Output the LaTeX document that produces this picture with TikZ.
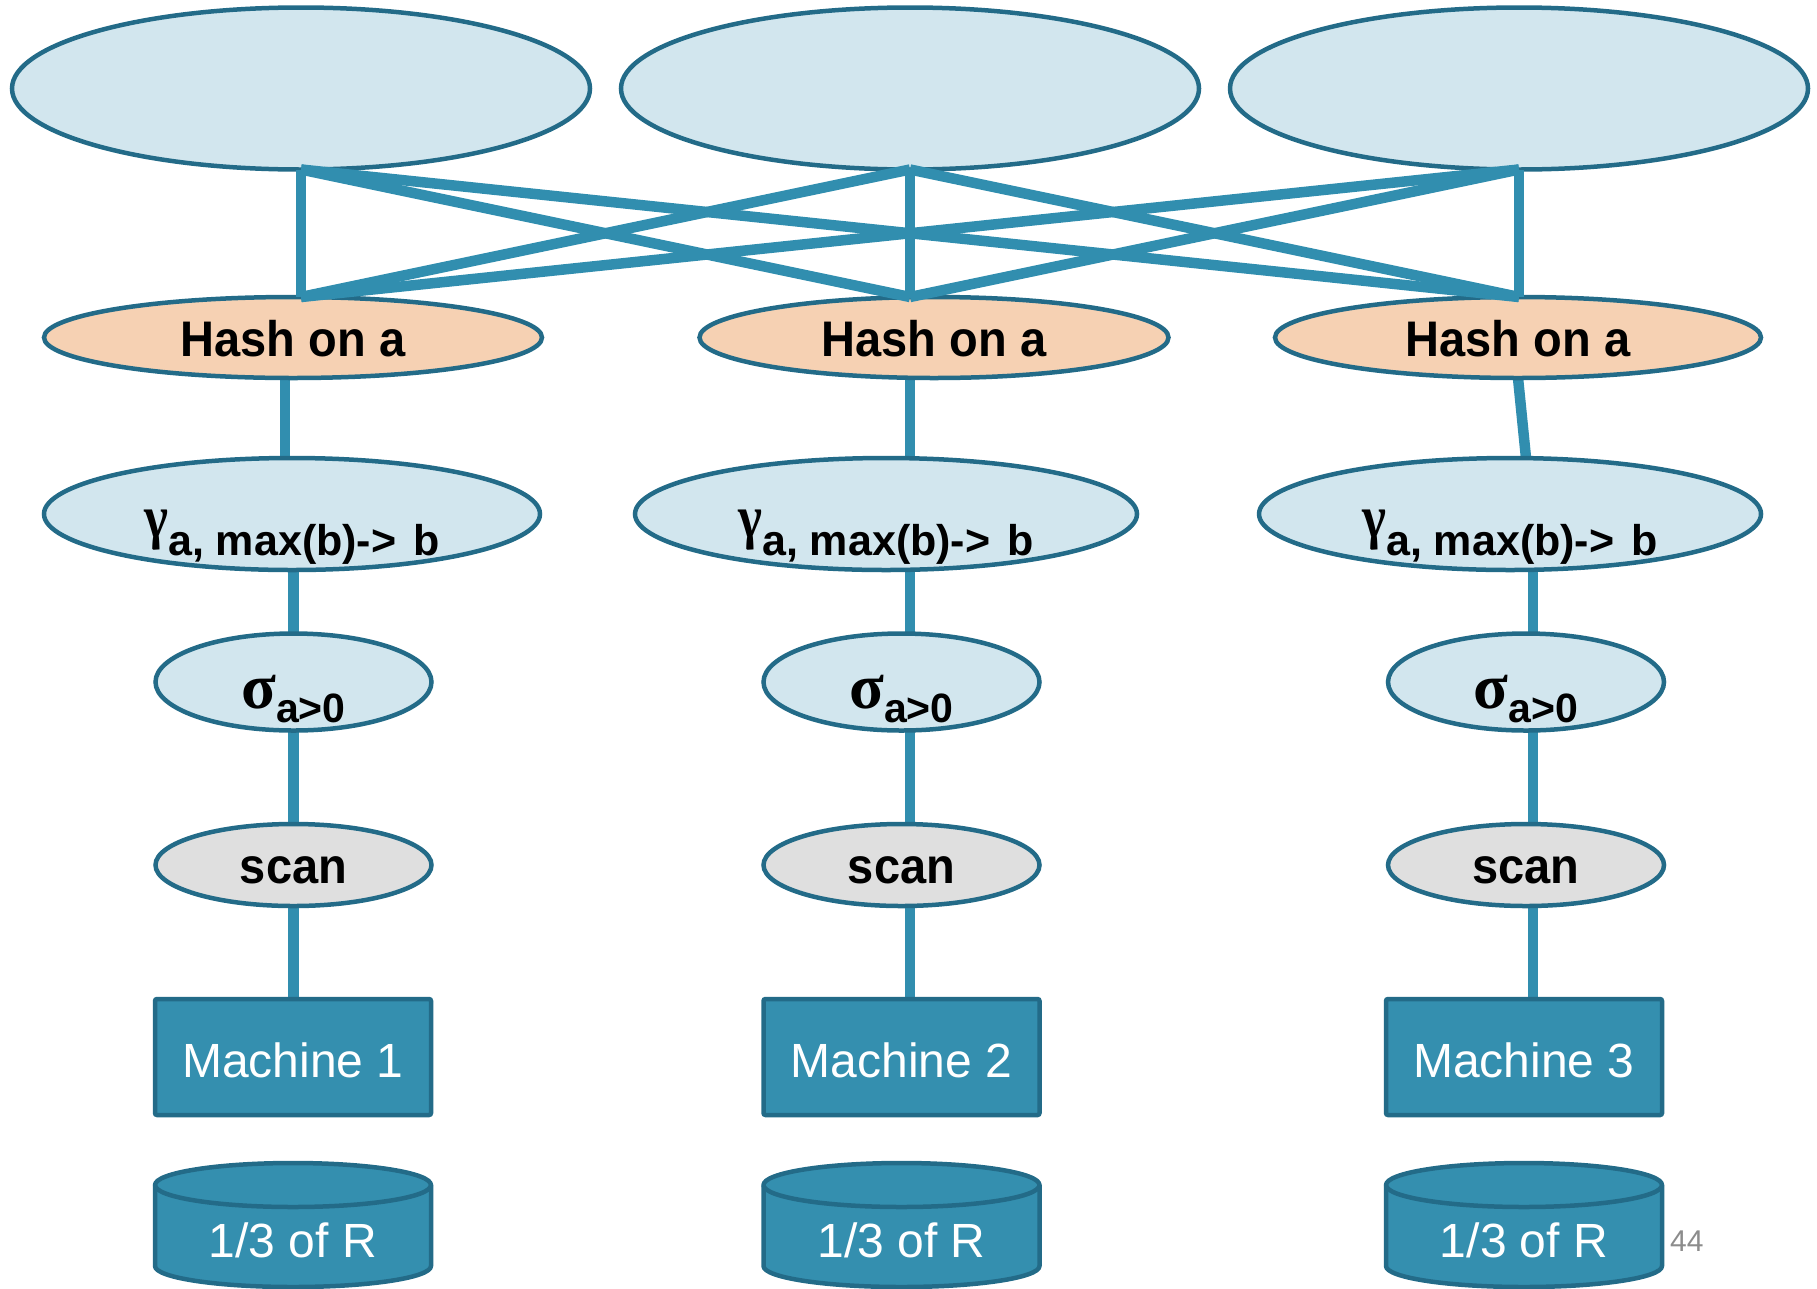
\documentclass[tikz,border=0pt]{standalone}
\usepackage{fontspec}
\setmainfont{Liberation Sans}
\newfontfamily\grk{Liberation Serif}
\newfontfamily\grkn[FakeStretch=0.85]{Liberation Serif}
\newfontfamily\lblfont[FakeStretch=0.94]{Liberation Sans}
\usetikzlibrary{shapes.geometric}
\pgfdeclarelayer{bg}
\pgfsetlayers{bg,main}
\definecolor{edgec}{HTML}{236B88}
\definecolor{conn}{HTML}{318EAF}
\definecolor{lightfill}{HTML}{D2E6EE}
\definecolor{peach}{HTML}{F6D1B3}
\definecolor{scangray}{HTML}{DFDFDF}
\definecolor{machfill}{HTML}{348FAF}
\definecolor{pagegray}{HTML}{8C8C8C}
\newcommand{\gam}{{\grkn\bfseries\fontsize{60}{60}\selectfont γ}\raisebox{-18pt}{\bfseries\fontsize{43}{44}\selectfont a, max(b)->\hspace{17pt}b}}
\newcommand{\sig}{{\grk\bfseries\fontsize{64}{64}\selectfont σ}\raisebox{-14pt}{\bfseries\fontsize{41}{42}\selectfont a>0}}
\begin{document}
\begin{tikzpicture}[x=1pt,y=-1pt,
  base/.style={draw=edgec, line width=4.5pt, inner sep=0pt, outer sep=0pt},
  topell/.style={base, ellipse, fill=lightfill, minimum width=578pt, minimum height=162pt},
  hashell/.style={base, ellipse, fill=peach, minimum height=81pt, text height=37pt, text depth=0pt,
    font=\lblfont\fontsize{50}{52}\selectfont\bfseries},
  gammaell/.style={base, ellipse, fill=lightfill, minimum height=112pt, text height=46pt, text depth=0pt},
  sigmaell/.style={base, ellipse, fill=lightfill, minimum width=276pt, minimum height=97pt, text height=52pt, text depth=0pt},
  scanell/.style={base, ellipse, fill=scangray, minimum width=276pt, minimum height=82pt, text height=36pt, text depth=0pt,
    font=\lblfont\fontsize{50}{52}\selectfont\bfseries},
  machbox/.style={base, rectangle, rounded corners=2pt, fill=machfill, text=white, minimum width=276pt, minimum height=116pt,
    text height=40pt, text depth=0pt, font=\fontsize{48}{50}\selectfont},
  cylshape/.style={draw=edgec, fill=machfill, line width=4.5pt, line join=round},
  cyltext/.style={text=white, inner sep=0pt, anchor=base, font=\fontsize{48}{50}\selectfont},
  link/.style={draw=conn, line width=10.5pt},
]
\useasboundingbox (0,0) rectangle (1817,1288);

% top ellipses
\node[topell] (t1) at (301,88.5) {};
\node[topell] (t2) at (910,88.5) {};
\node[topell] (t3) at (1519,88.5) {};

% hash
\node[hashell, minimum width=498pt] (h1) at (293,337.5) {Hash on a};
\node[hashell, minimum width=469pt] (h2) at (934,337.5) {Hash on a};
\node[hashell, minimum width=486pt] (h3) at (1518,337.5) {Hash on a};

% gamma
\node[gammaell, minimum width=496pt] (g1) at (292,514) {\gam};
\node[gammaell, minimum width=502pt] (g2) at (886,514) {\gam};
\node[gammaell, minimum width=502pt] (g3) at (1510,514) {\gam};

% sigma
\node[sigmaell] (s1) at (293.5,682) {\sig};
\node[sigmaell] (s2) at (901.5,682) {\sig};
\node[sigmaell] (s3) at (1526,682) {\sig};

% scan
\node[scanell] (c1) at (293.5,865) {scan};
\node[scanell] (c2) at (901.5,865) {scan};
\node[scanell] (c3) at (1526,865) {scan};

% machines
\node[machbox] (m1) at (293,1057) {Machine 1};
\node[machbox] (m2) at (901.5,1057) {Machine 2};
\node[machbox] (m3) at (1524,1057) {Machine 3};

% column axes
\coordinate (ax1) at (293.5,0);
\coordinate (ax2) at (910,0);
\coordinate (ax3) at (1533,0);

\begin{pgfonlayer}{bg}
\draw[link] ([xshift=-8pt]h1.south) -- ([xshift=-7pt]g1.north);
\draw[link] ([xshift=-24pt]h2.south) -- ([xshift=24pt]g2.north);
\draw[link] (h3.south) -- ([xshift=16pt]g3.north);
\foreach \i in {1,2,3}{
  \draw[link] (ax\i |- g\i.south) -- (ax\i |- s\i.north);
  \draw[link] (ax\i |- s\i.south) -- (ax\i |- c\i.north);
  \draw[link] (ax\i |- c\i.south) -- (ax\i |- m\i.north);
}
\end{pgfonlayer}

% crossing links
\foreach \i in {1,2,3}{
  \foreach \j in {1,2,3}{
    \draw[link] (t\i.south) -- (t\j.south |- h\j.north);
  }
}

% cylinders
\foreach \cx/\n in {293/1, 901.5/2, 1524/3}{
  \path[cylshape] (\cx-138,1185) -- (\cx-138,1266)
    arc[start angle=180, end angle=360, x radius=138pt, y radius=21pt]
    -- (\cx+138,1185)
    arc[start angle=0, end angle=180, x radius=138pt, y radius=22pt] -- cycle;
  \draw[edgec, line width=4.5pt] (\cx-138,1185)
    arc[start angle=180, end angle=360, x radius=138pt, y radius=22pt];
  \node[cyltext] (r\n) at (\cx,1257) {1/3 of R};
}

\node[anchor=base west, inner sep=0pt, text=pagegray, font=\fontsize{30}{32}\selectfont] (pg) at (1670,1251) {44};
\end{tikzpicture}
\end{document}
